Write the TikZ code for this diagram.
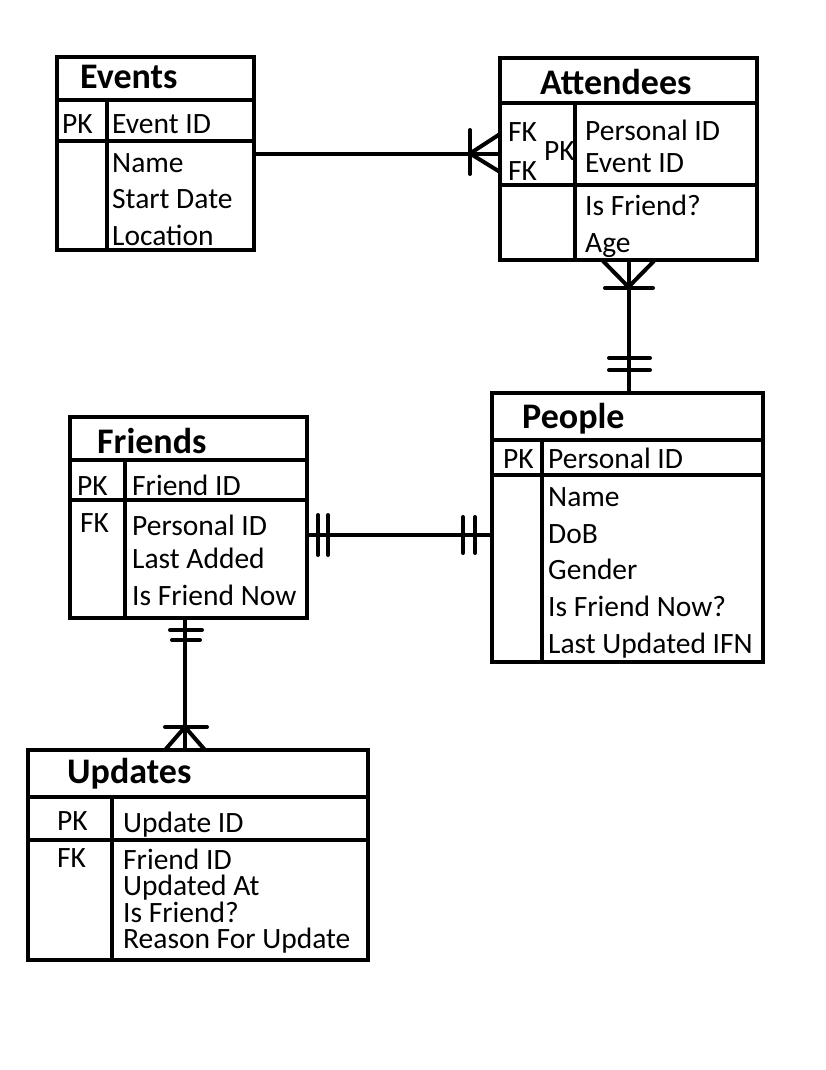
\documentclass[tikz,border=0pt]{standalone}
\usepackage{fontspec}
\setmainfont{Carlito}
\usetikzlibrary{positioning}

\tikzset{
  tbl/.style={draw, rectangle, line width=4pt, inner sep=0pt, outer sep=0pt},
  ttl/.style={anchor=base west, inner sep=0pt, font=\fontsize{36}{42}\selectfont\bfseries},
  fld/.style={anchor=base west, inner sep=0pt, font=\fontsize{29.5}{34}\selectfont},
  sep/.style={line width=3.5pt},
  rel/.style={line width=4pt},
  tick/.style={line width=4pt, line cap=round},
}

\begin{document}
\begin{tikzpicture}[x=1pt, y=-1pt]
\useasboundingbox (0,0) rectangle (826,1070);

% Events
\node[tbl, minimum width=197, minimum height=193] (events) at (155.5,153.5) {};
\draw[sep] (events.west |- 0,100) -- (events.east |- 0,100);
\draw[sep] (events.west |- 0,141) -- (events.east |- 0,141);
\draw[sep] (107,100) -- (events.south -| 107,0);
\node[ttl] (ev-title) at (80,89) {Events};
\node[fld] (ev-pk) at (62,134) {PK};
\node[fld] (ev-id) at (112,134) {Event ID};
\node[fld] (ev-name) at (112,172) {Name};
\node[fld] (ev-start) at (112,208) {Start Date};
\node[fld] (ev-loc) at (112,245) {Location};

% Attendees
\node[tbl, minimum width=257, minimum height=202] (attendees) at (628.5,159) {};
\draw[sep] (attendees.west |- 0,103) -- (attendees.east |- 0,103);
\draw[sep] (attendees.west |- 0,185) -- (attendees.east |- 0,185);
\draw[sep] (575,103) -- (attendees.south -| 575,0);
\node[ttl] (at-title) at (540,95) {Attendees};
\node[fld] (at-fk1) at (508,142) {FK};
\node[fld] (at-fk2) at (508,180) {FK};
\node[fld] (at-pk) at (544,160) {PK};
\node[fld] (at-pid) at (585,140) {Personal ID};
\node[fld] (at-eid) at (585,172) {Event ID};
\node[fld] (at-isf) at (585,215) {Is Friend?};
\node[fld] (at-age) at (585,252) {Age};

% People
\node[tbl, minimum width=271, minimum height=269] (people) at (627.5,527.5) {};
\draw[sep] (people.west |- 0,440) -- (people.east |- 0,440);
\draw[sep] (people.west |- 0,475) -- (people.east |- 0,475);
\draw[sep] (542,440) -- (people.south -| 542,0);
\node[ttl] (pe-title) at (522,428) {People};
\node[fld] (pe-pk) at (503,468) {PK};
\node[fld] (pe-pid) at (548,468) {Personal ID};
\node[fld] (pe-name) at (548,506) {Name};
\node[fld] (pe-dob) at (548,543) {DoB};
\node[fld] (pe-gen) at (548,579) {Gender};
\node[fld] (pe-ifn) at (548,616) {Is Friend Now?};
\node[fld] (pe-last) at (548,653) {Last Updated IFN};

% Friends
\node[tbl, minimum width=237, minimum height=201] (friends) at (188.5,517.5) {};
\draw[sep] (friends.west |- 0,460) -- (friends.east |- 0,460);
\draw[sep] (friends.west |- 0,500) -- (friends.east |- 0,500);
\draw[sep] (125,460) -- (friends.south -| 125,0);
\node[ttl] (fr-title) at (97,453) {Friends};
\node[fld] (fr-pk) at (77,495) {PK};
\node[fld] (fr-fid) at (132,495) {Friend ID};
\node[fld] (fr-fk) at (80,532) {FK};
\node[fld] (fr-pid) at (132,535) {Personal ID};
\node[fld] (fr-last) at (132,568) {Last Added};
\node[fld] (fr-ifn) at (132,605) {Is Friend Now};

% Updates
\node[tbl, minimum width=340, minimum height=210] (updates) at (198,855) {};
\draw[sep] (updates.west |- 0,797) -- (updates.east |- 0,797);
\draw[sep] (updates.west |- 0,840) -- (updates.east |- 0,840);
\draw[sep] (112,797) -- (updates.south -| 112,0);
\node[ttl] (up-title) at (67,783) {Updates};
\node[fld] (up-pk) at (57,830) {PK};
\node[fld] (up-uid) at (123,832) {Update ID};
\node[fld] (up-fk) at (57,867) {FK};
\node[fld] (up-fid) at (123,869) {Friend ID};
\node[fld] (up-at) at (123,895) {Updated At};
\node[fld] (up-isf) at (123,922) {Is Friend?};
\node[fld] (up-why) at (123,948) {Reason For Update};

% Events -- Attendees (one to many)
\draw[rel] (events.east) -- (events.east -| attendees.west);
\draw[tick] (470,130) -- (470,174);
\draw[rel] (500,134) -- (470,153.5) -- (500,172);

% Attendees -- People (many to one)
\draw[rel] (attendees.south) -- (attendees.south |- people.north);
\draw[rel] (603,261) -- (628.5,287) -- (654,261);
\draw[tick] (605,288) -- (653,288);
\draw[tick] (609,358) -- (650,358);
\draw[tick] (609,370) -- (650,370);

% Friends -- People (one to one)
\draw[rel] (friends.east |- 0,535) -- (people.west |- 0,535);
\draw[tick] (318,515) -- (318,555);
\draw[tick] (328,515) -- (328,555);
\draw[tick] (463,517) -- (463,553);
\draw[tick] (475,517) -- (475,553);

% Friends -- Updates (one to many)
\draw[rel] (friends.south -| 185,0) -- (updates.north -| 185,0);
\draw[tick] (170,630) -- (202,630);
\draw[tick] (172,640) -- (200,640);
\draw[tick] (165,727) -- (207,727);
\draw[rel] (165,750) -- (185,727) -- (205,750);
\end{tikzpicture}
\end{document}
